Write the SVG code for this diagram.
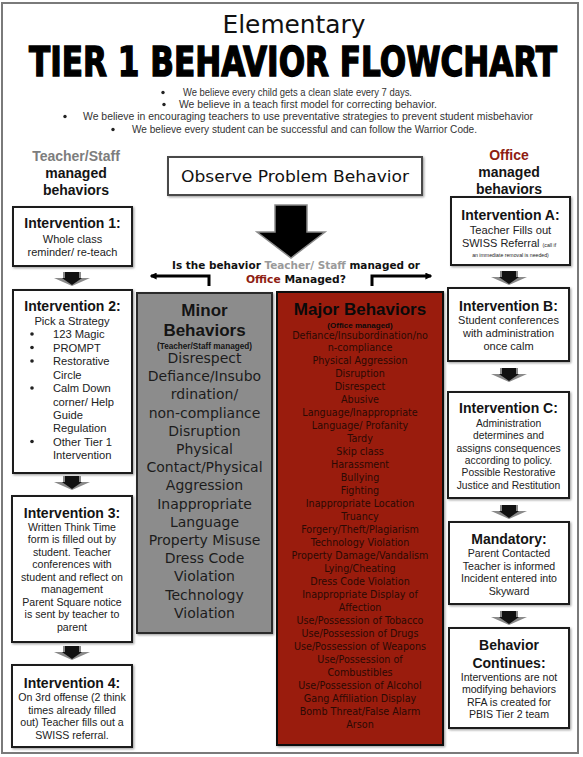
<svg xmlns="http://www.w3.org/2000/svg" width="583" height="757" viewBox="0 0 583 757">
<defs>
<style>
.frame{fill:#fff;stroke:#7a7a7a;stroke-width:2}
.box{fill:#fff;stroke:#1a1a1a;stroke-width:2;filter:url(#sh)}
.h{font-family:"Liberation Sans",Arial,sans-serif;font-weight:bold;font-size:14px;text-anchor:middle;fill:#141414}
.b{font-family:"Liberation Sans",Arial,sans-serif;font-size:10.6px;text-anchor:middle;fill:#222}
.bl{font-family:"Liberation Sans",Arial,sans-serif;font-size:11.2px;fill:#222}
.bul{font-family:"Liberation Sans",Arial,sans-serif;font-size:10px;fill:#333}
.g{font-family:"DejaVu Sans",sans-serif;text-anchor:middle}
.minor{font-family:"DejaVu Sans",sans-serif;font-size:14px;text-anchor:middle;fill:#1c1c1c}
.major{font-family:"DejaVu Sans",sans-serif;font-size:9.6px;text-anchor:middle;fill:#2b0a04}
.dot{fill:#222}
.conn{fill:none;stroke:#000;stroke-width:3}
</style>
<filter id="sh" x="-10%" y="-10%" width="120%" height="120%">
<feDropShadow dx="1.2" dy="1.2" stdDeviation="0.8" flood-color="#777" flood-opacity="0.7"/>
</filter>
<marker id="ah" viewBox="0 0 10 10" refX="8" refY="5" markerWidth="7" markerHeight="7" markerUnits="userSpaceOnUse" orient="auto">
<path d="M0,0 L10,5 L0,10 z" fill="#000"/>
</marker>
<g id="sarrow">
<polygon points="-9,0 9,0 9,6 18,6 0,14 -18,6 -9,6" fill="#8a8a8a"/>
<polygon points="-7,0 7,0 7,6 10,6 0,13 -10,6 -7,6" fill="#111"/>
</g>
</defs>

<rect class="frame" x="2" y="3" width="576" height="750"/>

<g id="header">
<text class="g" x="294" y="33" font-size="25" fill="#111" textLength="143" lengthAdjust="spacingAndGlyphs">Elementary</text>
<text transform="translate(293,76) scale(1,1.14)" x="0" y="0" font-family="'DejaVu Sans Condensed','DejaVu Sans',sans-serif" font-weight="bold" font-size="36" text-anchor="middle" fill="#000" stroke="#000" stroke-width="1.2" textLength="528" lengthAdjust="spacingAndGlyphs">TIER 1 BEHAVIOR FLOWCHART</text>
<circle class="dot" cx="163" cy="92.5" r="1.7"/>
<text class="bul" x="183" y="96" textLength="229" lengthAdjust="spacingAndGlyphs">We believe every child gets a clean slate every 7 days.</text>
<circle class="dot" cx="164" cy="104.5" r="1.7"/>
<text class="bul" x="179" y="108" textLength="258" lengthAdjust="spacingAndGlyphs">We believe in a teach first model for correcting behavior.</text>
<circle class="dot" cx="65" cy="116.5" r="1.7"/>
<text class="bul" x="83" y="120" textLength="450" lengthAdjust="spacingAndGlyphs">We believe in encouraging teachers to use preventative strategies to prevent student misbehavior</text>
<circle class="dot" cx="113" cy="129.5" r="1.7"/>
<text class="bul" x="132" y="133" textLength="345" lengthAdjust="spacingAndGlyphs">We believe every student can be successful and can follow the Warrior Code.</text>
</g>

<g id="teacher-header">
<text class="h" x="76" y="161" style="fill:#7d7d7d">Teacher/Staff</text>
<text class="h" x="76" y="178">managed</text>
<text class="h" x="76" y="195">behaviors</text>
</g>

<g id="office-header">
<text class="h" x="509" y="160" style="fill:#8e1d12">Office</text>
<text class="h" x="509" y="177">managed</text>
<text class="h" x="509" y="194">behaviors</text>
</g>

<g id="observe">
<rect class="box" x="168" y="157" width="254" height="38" style="stroke:#4a4a4a"/>
<text class="g" x="295" y="182" font-size="16" fill="#111" textLength="228" lengthAdjust="spacingAndGlyphs">Observe Problem Behavior</text>
</g>

<g id="question">
<text class="g" x="296" y="269" font-size="11" font-weight="bold" textLength="248" lengthAdjust="spacingAndGlyphs"><tspan fill="#111">Is the behavior </tspan><tspan fill="#9a9a9a">Teacher/ Staff</tspan><tspan fill="#111"> managed or</tspan></text>
<text class="g" x="296" y="283" font-size="11" font-weight="bold" textLength="100" lengthAdjust="spacingAndGlyphs"><tspan fill="#8e1d12">Office</tspan><tspan fill="#111"> Managed?</tspan></text>
</g>

<g id="int1">
<rect class="box" x="13" y="207" width="119" height="59"/>
<text class="h" x="72.5" y="228">Intervention 1:</text>
<text class="b" x="72.5" y="243" style="font-size:11px">Whole class</text>
<text class="b" x="72.5" y="256" style="font-size:11px">reminder/ re-teach</text>
</g>

<g id="int2">
<rect class="box" x="13" y="290" width="119" height="183"/>
<text class="h" x="72.5" y="311">Intervention 2:</text>
<text class="b" x="72" y="324.5" style="font-size:11.2px">Pick a Strategy</text>
<circle class="dot" cx="32" cy="334" r="1.8"/>
<text class="bl" x="53" y="338">123 Magic</text>
<circle class="dot" cx="32" cy="347.5" r="1.8"/>
<text class="bl" x="53" y="351.5">PROMPT</text>
<circle class="dot" cx="32" cy="361" r="1.8"/>
<text class="bl" x="53" y="365">Restorative</text>
<text class="bl" x="53" y="378.5">Circle</text>
<circle class="dot" cx="32" cy="388" r="1.8"/>
<text class="bl" x="53" y="392">Calm Down</text>
<text class="bl" x="53" y="405.5">corner/ Help</text>
<text class="bl" x="53" y="418.5">Guide</text>
<text class="bl" x="53" y="432">Regulation</text>
<circle class="dot" cx="32" cy="441.5" r="1.8"/>
<text class="bl" x="53" y="445.5">Other Tier 1</text>
<text class="bl" x="53" y="459">Intervention</text>
</g>

<g id="int3">
<rect class="box" x="12" y="496" width="120" height="146"/>
<text class="h" x="72" y="518">Intervention 3:</text>
<text class="b" x="72" y="530.5">Written Think Time</text>
<text class="b" x="72" y="543">form is filled out by</text>
<text class="b" x="72" y="555.5">student. Teacher</text>
<text class="b" x="72" y="568">conferences with</text>
<text class="b" x="72" y="580.5">student and reflect on</text>
<text class="b" x="72" y="593">management</text>
<text class="b" x="72" y="605.5">Parent Square notice</text>
<text class="b" x="72" y="618">is sent by teacher to</text>
<text class="b" x="72" y="630.5">parent</text>
</g>

<g id="int4">
<rect class="box" x="12" y="665" width="120" height="82"/>
<text class="h" x="72" y="688">Intervention 4:</text>
<text class="b" x="72" y="701">On 3rd offense (2 think</text>
<text class="b" x="72" y="713.5">times already filled</text>
<text class="b" x="72" y="726">out) Teacher fills out a</text>
<text class="b" x="72" y="738.5">SWISS referral.</text>
</g>

<g id="minor">
<rect x="137" y="293" width="135" height="340" fill="#8c8c8c" stroke="#2a2a2a" stroke-width="2" filter="url(#sh)"/>
<text class="h" x="204.5" y="316" style="font-size:17px">Minor</text>
<text class="h" x="204.5" y="336" style="font-size:17px">Behaviors</text>
<text class="h" x="204.5" y="349" style="font-size:8.2px">(Teacher/Staff managed)</text>
<text class="minor" x="204.5" y="363">Disrespect</text>
<text class="minor" x="204.5" y="381.2">Defiance/Insubo</text>
<text class="minor" x="204.5" y="399.4">rdination/</text>
<text class="minor" x="204.5" y="417.6">non-compliance</text>
<text class="minor" x="204.5" y="435.8">Disruption</text>
<text class="minor" x="204.5" y="454">Physical</text>
<text class="minor" x="204.5" y="472.2">Contact/Physical</text>
<text class="minor" x="204.5" y="490.4">Aggression</text>
<text class="minor" x="204.5" y="508.6">Inappropriate</text>
<text class="minor" x="204.5" y="526.8">Language</text>
<text class="minor" x="204.5" y="545">Property Misuse</text>
<text class="minor" x="204.5" y="563.2">Dress Code</text>
<text class="minor" x="204.5" y="581.4">Violation</text>
<text class="minor" x="204.5" y="599.6">Technology</text>
<text class="minor" x="204.5" y="617.8">Violation</text>
</g>

<g id="major">
<rect x="277" y="292" width="166" height="453" fill="#9a1b0a" stroke="#111" stroke-width="2" filter="url(#sh)"/>
<text class="h" x="360" y="315" style="font-size:17px;fill:#0a0a0a">Major Behaviors</text>
<text class="h" x="360" y="327.5" style="font-size:8px;fill:#0a0a0a">(Office managed)</text>
<text class="major" x="360" y="338.5">Defiance/Insubordination/no</text>
<text class="major" x="360" y="351">n-compliance</text>
<text class="major" x="360" y="364">Physical Aggression</text>
<text class="major" x="360" y="377">Disruption</text>
<text class="major" x="360" y="390">Disrespect</text>
<text class="major" x="360" y="403">Abusive</text>
<text class="major" x="360" y="416">Language/Inappropriate</text>
<text class="major" x="360" y="429">Language/ Profanity</text>
<text class="major" x="360" y="442">Tardy</text>
<text class="major" x="360" y="455">Skip class</text>
<text class="major" x="360" y="468">Harassment</text>
<text class="major" x="360" y="481">Bullying</text>
<text class="major" x="360" y="494">Fighting</text>
<text class="major" x="360" y="507">Inappropriate Location</text>
<text class="major" x="360" y="520">Truancy</text>
<text class="major" x="360" y="533">Forgery/Theft/Plagiarism</text>
<text class="major" x="360" y="546">Technology Violation</text>
<text class="major" x="360" y="559">Property Damage/Vandalism</text>
<text class="major" x="360" y="572">Lying/Cheating</text>
<text class="major" x="360" y="585">Dress Code Violation</text>
<text class="major" x="360" y="598">Inappropriate Display of</text>
<text class="major" x="360" y="611">Affection</text>
<text class="major" x="360" y="624">Use/Possession of Tobacco</text>
<text class="major" x="360" y="637">Use/Possession of Drugs</text>
<text class="major" x="360" y="650">Use/Possession of Weapons</text>
<text class="major" x="360" y="663">Use/Possession of</text>
<text class="major" x="360" y="676">Combustibles</text>
<text class="major" x="360" y="689">Use/Possession of Alcohol</text>
<text class="major" x="360" y="702">Gang Affiliation Display</text>
<text class="major" x="360" y="715">Bomb Threat/False Alarm</text>
<text class="major" x="360" y="728">Arson</text>
</g>

<g id="intA">
<rect class="box" x="451" y="197" width="119" height="68"/>
<text class="h" x="510.5" y="220">Intervention A:</text>
<text class="b" x="510.5" y="234" style="font-size:11.2px">Teacher Fills out</text>
<text class="b" x="509" y="247" style="font-size:11px">SWISS Referral <tspan style="font-size:5.2px">(call if</tspan></text>
<text class="b" x="510.5" y="257" style="font-size:5.2px">an immediate removal is needed)</text>
</g>

<g id="intB">
<rect class="box" x="448" y="288" width="121" height="73"/>
<text class="h" x="508.5" y="311">Intervention B:</text>
<text class="b" x="508.5" y="324" style="font-size:11px">Student conferences</text>
<text class="b" x="508.5" y="337" style="font-size:11px">with administration</text>
<text class="b" x="508.5" y="350" style="font-size:11px">once calm</text>
</g>

<g id="intC">
<rect class="box" x="448" y="392" width="121" height="106"/>
<text class="h" x="508.5" y="413">Intervention C:</text>
<text class="b" x="508.5" y="427" style="font-size:10.3px">Administration</text>
<text class="b" x="508.5" y="439.3" style="font-size:10.3px">determines and</text>
<text class="b" x="508.5" y="451.6" style="font-size:10.3px">assigns consequences</text>
<text class="b" x="508.5" y="463.9" style="font-size:10.3px">according to policy.</text>
<text class="b" x="508.5" y="476.2" style="font-size:10.3px">Possible Restorative</text>
<text class="b" x="508.5" y="488.5" style="font-size:10.3px">Justice and Restitution</text>
</g>

<g id="mandatory">
<rect class="box" x="449" y="522" width="120" height="82"/>
<text class="h" x="509" y="544">Mandatory:</text>
<text class="b" x="509" y="557" style="font-size:10.6px">Parent Contacted</text>
<text class="b" x="509" y="569.5" style="font-size:10.6px">Teacher is informed</text>
<text class="b" x="509" y="582" style="font-size:10.6px">Incident entered into</text>
<text class="b" x="509" y="594.5" style="font-size:10.6px">Skyward</text>
</g>

<g id="continues">
<rect class="box" x="449" y="628" width="120" height="100"/>
<text class="h" x="509" y="650">Behavior</text>
<text class="h" x="509" y="668">Continues:</text>
<text class="b" x="509" y="680.5" style="font-size:10.6px">Interventions are not</text>
<text class="b" x="509" y="693" style="font-size:10.6px">modifying behaviors</text>
<text class="b" x="509" y="705.5" style="font-size:10.6px">RFA is created for</text>
<text class="b" x="509" y="718" style="font-size:10.6px">PBIS Tier 2 team</text>
</g>

<g id="connectors">
<polygon points="275,205 307,205 307,232 325,232 291,258 257,232 275,232" fill="#000" stroke="#8a8a8a" stroke-width="1.5"/>
<path class="conn" d="M209,286 V276 H151" marker-end="url(#ah)"/>
<path class="conn" d="M372,286 V276 H431" marker-end="url(#ah)"/>
<use href="#sarrow" x="72" y="272"/>
<use href="#sarrow" x="72" y="476"/>
<use href="#sarrow" x="72" y="646"/>
<use href="#sarrow" x="509" y="271"/>
<use href="#sarrow" x="509" y="368"/>
<use href="#sarrow" x="509" y="505"/>
<use href="#sarrow" x="509" y="611"/>
</g>
</svg>
